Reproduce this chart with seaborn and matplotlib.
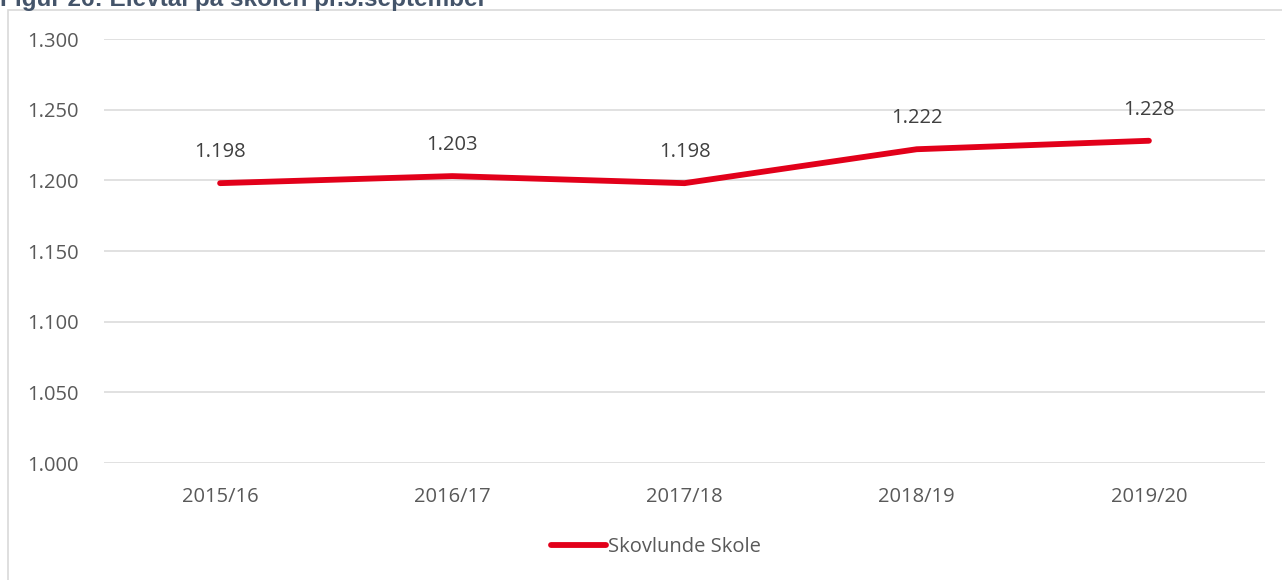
import matplotlib
matplotlib.use("Agg")
import matplotlib.pyplot as plt
import seaborn as sns
import pandas as pd
from matplotlib.patches import Rectangle
from matplotlib.lines import Line2D

years = ["2015/16", "2016/17", "2017/18", "2018/19", "2019/20"]
values = [1198, 1203, 1198, 1222, 1228]
labels = ["1.198", "1.203", "1.198", "1.222", "1.228"]
yticks = [1000, 1050, 1100, 1150, 1200, 1250, 1300]
ytick_labels = ["1.000", "1.050", "1.100", "1.150", "1.200", "1.250", "1.300"]
series_name = "Skovlunde Skole"
title = "Figur 26: Elevtal på skolen pr.5.september"

df = pd.DataFrame({"year": years, "value": values, "serie": series_name})

sns.set_theme(style="white")
plt.rcParams["font.family"] = ["Open Sans", "DejaVu Sans"]

fig = plt.figure(figsize=(12.82, 5.80), dpi=100)
W, H = 1282, 580
ax = fig.add_axes([104 / W, 1 - 463 / H, (1265 - 104) / W, (463 - 39) / H])

red = "#E2001A"
fs = 14.5
sns.lineplot(data=df, x="year", y="value", hue="serie", palette=[red],
             linewidth=4.2, ax=ax, sort=False, legend=False)
for line in ax.lines:
    line.set_solid_capstyle("round")
    line.set_solid_joinstyle("round")

ax.set_ylim(1000, 1300)
ax.set_xlim(-0.5, 4.5)
ax.set_yticks(yticks)
ax.set_yticklabels(ytick_labels)
ax.grid(axis="y", color="#D9D9D9", linewidth=1.1)
ax.set_axisbelow(True)
for s in ax.spines.values():
    s.set_visible(False)
ax.set_xlabel("")
ax.set_ylabel("")
ax.tick_params(axis="both", length=0, labelsize=fs, labelcolor="#595959")
ax.tick_params(axis="x", pad=17)
for lab in ax.get_yticklabels():
    lab.set_horizontalalignment("left")
ax.yaxis.set_tick_params(pad=(104 - 27) * 0.72)

for i, (v, t) in enumerate(zip(values, labels)):
    ax.annotate(t, (i, v), xytext=(0, 22.5), textcoords="offset points",
                ha="center", va="center", fontsize=fs, color="#404040")

handle = Line2D([], [], color=red, linewidth=4.2, solid_capstyle="round")
fig.legend([handle], [series_name], loc="center", bbox_to_anchor=(656 / W, 1 - 547 / H),
           frameon=False, fontsize=fs, labelcolor="#595959", handlelength=2.7,
           handletextpad=0.1)

fig.patches.append(Rectangle((8 / W, -0.01), 1.02, 1 - 10 / H + 0.01,
                             transform=fig.transFigure, fill=False,
                             edgecolor="#D9D9D9", linewidth=1.2))

fig.text(0 / W, 1 - 6 / H, title, ha="left", va="baseline", fontsize=17.5,
         fontweight="bold", color="#44546A", family=["Liberation Sans", "DejaVu Sans"])

fig.savefig("out.png", dpi=100)
